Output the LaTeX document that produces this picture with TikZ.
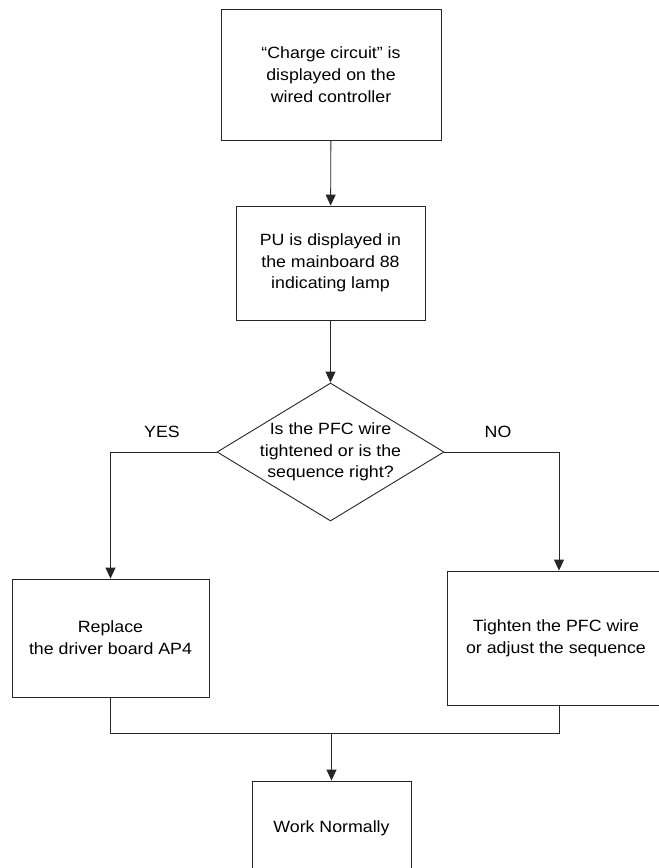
\documentclass[tikz,border=0pt]{standalone}
\usepackage{fontspec}
\setmainfont[FakeStretch=1.09]{Liberation Sans}
\usetikzlibrary{shapes.geometric,arrows.meta}

\begin{document}
\begin{tikzpicture}[x=1pt,y=-1pt,
  every node/.style={font=\fontsize{16.3}{21.7}\selectfont, text=black},
  line/.style={draw=black!85, line width=0.9pt},
  flow/.style={line, -{Triangle[width=10pt,length=11pt]}},
  stepbox/.style={line, rectangle, inner sep=0pt, align=center},
  decision/.style={line, diamond, inner sep=0pt, minimum width=227, minimum height=138}
]
\useasboundingbox (0,0) rectangle (659,868);
\clip (0,0) rectangle (659,868);
\fill[white] (0,0) rectangle (659,868);

% process steps
\node[stepbox, minimum width=220, minimum height=131] (start) at (331,74.5)
  {``Charge circuit'' is\\displayed on the\\wired controller};
\node[stepbox, minimum width=189, minimum height=114] (pu) at (330.5,263)
  {PU is displayed in\\the mainboard 88\\indicating lamp};

% decision
\node[decision] (check) at (330.5,452) {};
\node[align=center] (checktext) at (check)
  {Is the PFC wire\\tightened or is the\\sequence right?};

% outcomes
\node[stepbox, minimum width=197, minimum height=118] (replace) at (110.5,638)
  {Replace\\the driver board AP4};
\node[stepbox, minimum width=218, minimum height=134] (tighten) at (556,638)
  {Tighten the PFC wire\\or adjust the sequence};
\node[stepbox, minimum width=159, minimum height=94] (normal) at (331.5,828)
  {Work Normally};

% branch labels
\node (yes) at (162,432) {YES};
\node (no) at (498,432) {NO};

% merge point
\coordinate (merge) at (331.5,733);

% connectors
\draw[flow] (start) -- (pu);
\draw[flow] (pu) -- (check.north);
\draw[flow] (check.west) -| (replace.north);
\draw[flow] (check.east) -| (tighten.north -| 559,0);
\draw[line] (replace.south) |- (merge);
\draw[line] (tighten.south -| 559,0) |- (merge);
\draw[flow] (merge) -- (normal.north);
\end{tikzpicture}
\end{document}
